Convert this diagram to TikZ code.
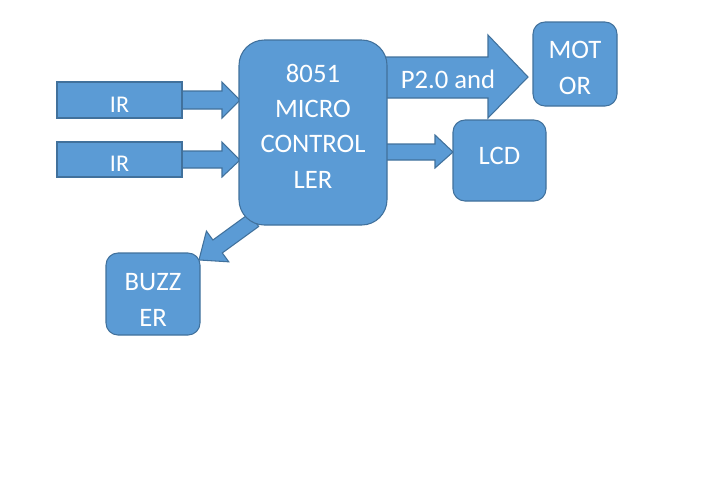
\documentclass[tikz,border=0pt]{standalone}
\usepackage{fontspec}
\setmainfont{Carlito}
\definecolor{boxfill}{HTML}{5B9BD5}
\definecolor{boxline}{HTML}{41719C}
\begin{document}
\begin{tikzpicture}[x=0.75pt,y=-0.75pt,
  blk/.style={fill=boxfill,draw=boxline,line width=0.8pt,rounded corners=9pt,inner sep=0pt},
  lbl/.style={text=white,font=\fontsize{20}{26.5}\selectfont,align=center,inner sep=0pt},
  flat/.style={fill=boxfill,draw=boxline,line width=0.8pt,inner sep=0pt},
  barrow/.style={fill=boxfill,draw=boxline,line width=0.8pt,line join=miter}]
\useasboundingbox (0,0) rectangle (707,480);
% block arrows (behind boxes)
\draw[barrow] (182,91) -- (222,91) -- (222,82) -- (240,100) -- (222,118) -- (222,109) -- (182,109) -- cycle;
\draw[barrow] (182,151) -- (222,151) -- (222,142) -- (240,160) -- (222,177) -- (222,168) -- (182,168) -- cycle;
\draw[barrow] (380,57) -- (488,57) -- (488,35) -- (528,77) -- (488,118) -- (488,98) -- (380,98) -- cycle;
\draw[barrow] (380,144) -- (435,144) -- (435,135) -- (453,152) -- (435,168) -- (435,160) -- (380,160) -- cycle;
\begin{scope}[shift={(254,220)},rotate=216]
\draw[barrow] (0,-8) -- (45,-8) -- (45,-19) -- (68,0) -- (45,19) -- (45,8) -- (0,8) -- cycle;
\end{scope}
% boxes
\node[flat,minimum width=125*0.75pt,minimum height=36*0.75pt] (ir1) at (119.5,100) {};
\node[flat,minimum width=125*0.75pt,minimum height=35*0.75pt] (ir2) at (119.5,159.5) {};
\node[text=white,font=\fontsize{18}{20}\selectfont,inner sep=0pt] (ir1t) at (119.5,105) {IR};
\node[text=white,font=\fontsize{18}{20}\selectfont,inner sep=0pt] (ir2t) at (119.5,164) {IR};
\node[blk,rounded corners=19pt,minimum width=148*0.75pt,minimum height=185*0.75pt] (mcu) at (313,132.5) {};
\node[lbl] (mcut) at (313,126) {8051\\MICRO\\CONTROL\\LER};
\node[blk,minimum width=84*0.75pt,minimum height=84*0.75pt] (motor) at (575,64) {};
\node[lbl] (motort) at (575,68) {MOT\\OR};
\node[blk,minimum width=93*0.75pt,minimum height=81*0.75pt] (lcd) at (499.5,160.5) {};
\node[lbl] (lcdt) at (499.5,156) {LCD};
\node[blk,minimum width=94*0.75pt,minimum height=82*0.75pt] (buzzer) at (153,294) {};
\node[lbl] (buzzert) at (153,300) {BUZZ\\ER};
\node[lbl] (p20) at (448,79) {P2.0 and};
\end{tikzpicture}
\end{document}
